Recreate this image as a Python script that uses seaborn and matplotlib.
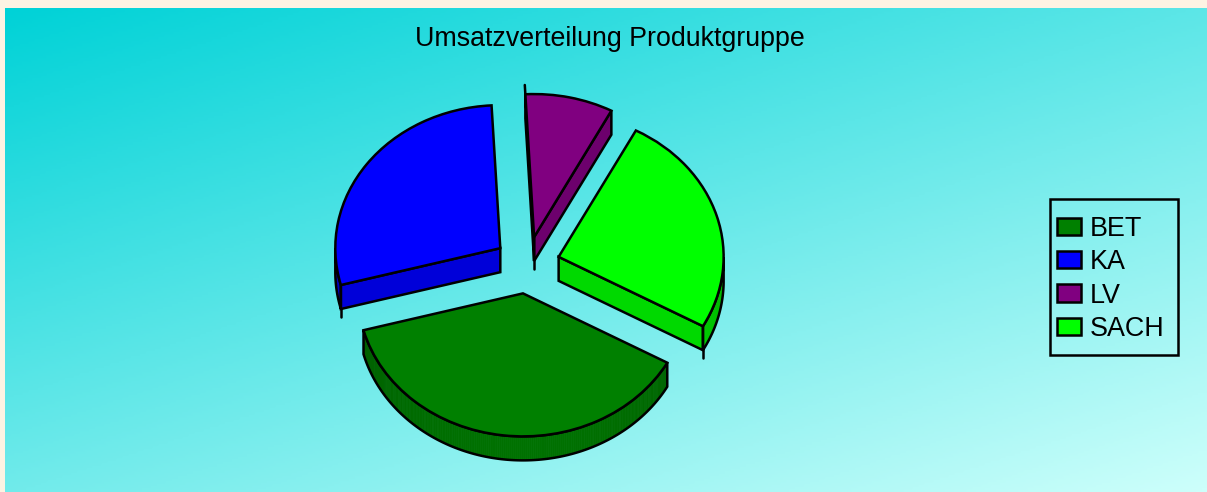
import numpy as np
import matplotlib
matplotlib.use('Agg')
import matplotlib.pyplot as plt
from matplotlib.colors import to_rgb, LinearSegmentedColormap
from matplotlib.patches import Polygon, Rectangle
import seaborn as sns

categories = ['BET', 'KA', 'LV', 'SACH']
shares = [37.8, 28.3, 8.6, 25.3]
slice_colors = ['#008000', '#0000ff', '#800080', '#00ff00']
title = 'Umsatzverteilung Produktgruppe'

W, H = 1207, 492
cx, cy = 527, 265      # pie centre in pixels
rx, ry = 165, 143      # ellipse radii in pixels
depth = 24 / ry        # thickness of the pie in y units
spike = 8 / ry         # little overshoot of the lines at the sharp corners
lw = 1.8

sns.set_theme(style='white')
plt.rcParams['font.family'] = ['Liberation Sans', 'DejaVu Sans']
palette = sns.color_palette(slice_colors)

fig = plt.figure(figsize=(W / 100, H / 100), dpi=100, facecolor='#fdf3e3')

# diagonal background
bg = fig.add_axes([5 / W, 0, (W - 5) / W, (H - 8) / H])
xx, yy = np.meshgrid(np.linspace(0, 1, 400), np.linspace(0, 1, 200))
cmap = LinearSegmentedColormap.from_list('bg', ['#00d2d7', '#cdfffb'])
bg.imshow(0.45 * xx + 0.55 * yy, cmap=cmap, aspect='auto', vmin=0, vmax=1)
bg.axis('off')

ax = fig.add_axes([0, 0, 1, 1], facecolor='none')
wedges, _ = ax.pie(shares, colors=palette, explode=[0.2] * 4, startangle=-29, counterclock=False,
                   wedgeprops=dict(edgecolor='black', linewidth=lw, zorder=3))
ax.set_aspect('auto')
ax.set_xlim(-cx / rx, (W - cx) / rx)
ax.set_ylim((cy - H) / ry, cy / ry)
ax.axis('off')


def draw_side(wedge, color):
    base = np.array(to_rgb(color))
    x0, y0 = wedge.center
    t1, t2 = wedge.theta1, wedge.theta2

    # straight cut faces, only those turned to the viewer
    for t, normal in [(t1, t1 - 90), (t2, t2 + 90)]:
        sn = np.sin(np.radians(normal))
        if sn < 0:
            px = x0 + np.cos(np.radians(t))
            py = y0 + np.sin(np.radians(t))
            ax.add_patch(Polygon([(x0, y0), (px, py), (px, py - depth), (x0, y0 - depth)],
                                 facecolor=base * 0.85, edgecolor='black', linewidth=lw, zorder=2))
            # overshoot at the corners of the face
            if sn > -0.1:
                ax.plot([x0, x0], [y0 - depth, y0 - depth - spike], color='black', lw=lw, zorder=4)
                ax.plot([px, x0 + 1.065 * np.cos(np.radians(t))], [py, y0 + 1.065 * np.sin(np.radians(t))],
                        color='black', lw=lw, zorder=4)
            elif py < y0:
                ax.plot([px, px], [py - depth, py - depth - spike], color='black', lw=lw, zorder=4)

    # outer rim, darker towards its ends
    ang = np.linspace(t1, t2, 200)
    ang = ang[np.sin(np.radians(ang)) < 0]
    if len(ang) < 2:
        return
    px = x0 + np.cos(np.radians(ang))
    py = y0 + np.sin(np.radians(ang))
    for i in range(len(ang) - 1):
        shade = 0.70 + 0.18 * abs(np.sin(np.radians(ang[i])))
        ax.add_patch(Polygon([(px[i], py[i]), (px[i + 1], py[i + 1]),
                              (px[i + 1], py[i + 1] - depth), (px[i], py[i] - depth)],
                             facecolor=base * shade, edgecolor=base * shade, linewidth=0.5, zorder=1))
    outline = list(zip(px, py)) + list(zip(px[::-1], py[::-1] - depth))
    ax.add_patch(Polygon(outline, facecolor='none', edgecolor='black', linewidth=lw, zorder=2))


for w, c in zip(wedges, palette):
    draw_side(w, c)

ax.text((610 - cx) / rx, (cy - 39.5) / ry, title, fontsize=19.3, color='black', ha='center', va='center')

# legend box is drawn apart, its padding differs between width and height
fig.add_artist(Rectangle((1050 / W, 1 - 355 / H), 128 / W, 156 / H, transform=fig.transFigure,
                         facecolor='none', edgecolor='black', linewidth=lw))
leg = ax.legend(wedges, categories, loc='upper left', bbox_to_anchor=(1057 / W, 1 - 216 / H),
                bbox_transform=fig.transFigure, borderaxespad=0, borderpad=0, fontsize=19.4, frameon=False,
                labelcolor='black', handlelength=0.9, handleheight=0.6, handletextpad=0.3, labelspacing=0.27)

fig.savefig('out.png', dpi=100, facecolor=fig.get_facecolor())
